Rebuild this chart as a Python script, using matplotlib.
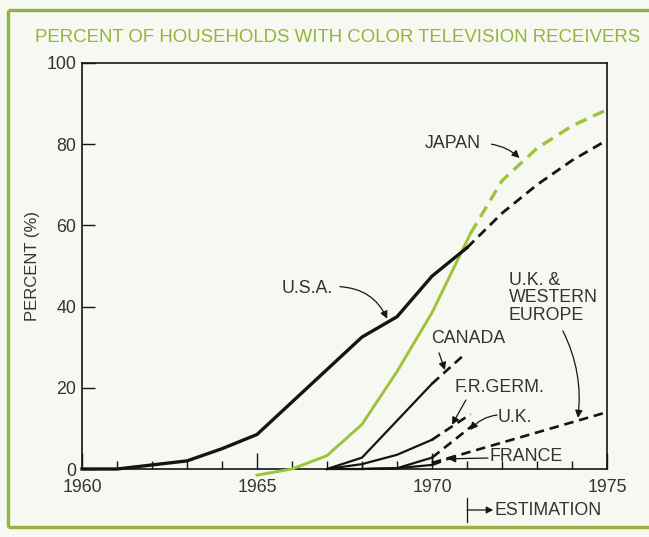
import matplotlib
matplotlib.use('Agg')
import matplotlib.pyplot as plt
from matplotlib.lines import Line2D

plt.rcParams['font.family'] = ['Liberation Sans', 'DejaVu Sans']

# ---------------- data ----------------
years_usa = [1960, 1961, 1962, 1963, 1964, 1965, 1966, 1967, 1968, 1969, 1970, 1971]
usa = [0, 0, 1, 2, 5, 8.5, 16.5, 24.5, 32.5, 37.5, 47.5, 54.5]
years_usa_est = [1971, 1972, 1973, 1974, 1975]
usa_est = [54.5, 63, 70, 76, 81]

years_japan = [1965, 1966, 1967, 1968, 1969, 1970, 1971.1]
japan = [-1.5, 0, 3.3, 11, 24, 38.5, 58]
years_japan_est = [1971.1, 1972, 1973, 1974, 1975]
japan_est = [58, 71, 79, 84.5, 88.5]

years_canada = [1967, 1968, 1970]
canada = [0, 2.8, 21]
years_canada_est = [1970, 1970.9]
canada_est = [21, 28]

years_frg = [1967, 1968, 1969, 1970]
frg = [0, 1.2, 3.5, 7.2]
years_frg_est = [1970, 1971.1]
frg_est = [7.2, 13.5]

years_uk = [1967, 1968, 1969, 1970]
uk = [0, 0, 0.2, 2.8]
years_uk_est = [1970, 1971.2]
uk_est = [2.8, 11]

years_france = [1968, 1969, 1970]
france = [0, 0.2, 1.0]
years_france_est = [1970, 1970.8]
france_est = [1.0, 3.6]

years_ukwe_est = [1970, 1975]
ukwe_est = [1.5, 14]

x_major = [1960, 1965, 1970, 1975]
y_major = [0, 20, 40, 60, 80, 100]

title = 'PERCENT OF HOUSEHOLDS WITH COLOR TELEVISION RECEIVERS'
ylabel = 'PERCENT (%)'

# ---------------- style ----------------
GREEN = '#93b53a'
LINEGREEN = '#9cc33c'
BLACK = '#141414'
TXT = '#333333'
BG = '#f8f8f3'
W, H = 649, 537
FS = 12.8

fig = plt.figure(figsize=(W / 100, H / 100), dpi=100, facecolor=BG)
ax = fig.add_axes([82 / W, (H - 469) / H, 525 / W, 406 / H])
ax.set_facecolor(BG)

# frame
for (x0, y0, x1, y1) in [(8, 10, 652, 10), (8, 10, 8, 527), (8, 527, 652, 527)]:
    fig.add_artist(Line2D([x0 / W, x1 / W], [1 - y0 / H, 1 - y1 / H],
                          transform=fig.transFigure, color=GREEN, lw=2.4,
                          solid_capstyle='butt'))

dash = (3.6, 2.2)

def solid(x, y, lw=1.6, color=BLACK):
    ax.plot(x, y, color=color, lw=lw, solid_joinstyle='miter', clip_on=False, zorder=3)

def dashed(x, y, lw=1.9, color=BLACK):
    ax.plot(x, y, color=color, lw=lw, dashes=dash, clip_on=False, zorder=3)

solid(years_japan, japan, lw=2.1, color=LINEGREEN)
dashed(years_japan_est, japan_est, lw=2.4, color=LINEGREEN)
solid(years_usa, usa, lw=2.4)
dashed(years_usa_est, usa_est, lw=2.0)
solid(years_canada, canada)
dashed(years_canada_est, canada_est)
solid(years_frg, frg)
dashed(years_frg_est, frg_est)
solid(years_uk, uk)
dashed(years_uk_est, uk_est)
solid(years_france, france)
dashed(years_france_est, france_est)
dashed(years_ukwe_est, ukwe_est)
# small connectors
ax.vlines(years_frg[1], uk[1], frg[1], color=BLACK, lw=1.0, zorder=3)
ax.vlines(years_uk[-1], france[-1], uk[-1], color=BLACK, lw=1.0, zorder=3)

ax.set_xlim(1960, 1975)
ax.set_ylim(0, 100)
ax.set_xticks(x_major)
ax.set_xticks(range(1960, 1976), minor=True)
ax.set_yticks(y_major)
ax.tick_params(axis='x', which='major', direction='in', length=11.5, width=1.0,
               pad=7, labelsize=FS, colors=BLACK, labelcolor=TXT)
ax.tick_params(axis='x', which='minor', direction='in', length=5.8, width=1.0, colors=BLACK)
ax.tick_params(axis='y', which='major', direction='in', length=9.4, width=1.0,
               pad=4, labelsize=FS, colors=BLACK, labelcolor=TXT)
for s in ax.spines.values():
    s.set_linewidth(1.2)
    s.set_color(BLACK)

fig.text(338 / W, 1 - 37 / H, title, ha='center', va='center', fontsize=13.4, color=GREEN)
fig.text(33 / W, 1 - 266 / H, ylabel, ha='center', va='center', rotation=90,
         fontsize=12, color=TXT)

def arrow(start, tip, rad=0.0):
    ax.annotate('', xy=tip, xytext=start, annotation_clip=False,
                arrowprops=dict(arrowstyle='-|>', color=BLACK, lw=0.9,
                                mutation_scale=11, shrinkA=0, shrinkB=0,
                                connectionstyle=f'arc3,rad={rad}'))

def label(x, y, s, ha='center', **kw):
    ax.text(x, y, s, ha=ha, va='center', fontsize=FS, color=TXT, **kw)

label(1970.6, 80.2, 'JAPAN')
arrow((1971.7, 80.0), (1972.5, 76.6), rad=-0.15)

label(1966.43, 44.4, 'U.S.A.')
arrow((1967.37, 44.9), (1968.72, 37.0), rad=-0.3)

label(1972.2, 42.2, 'U.K. &\nWESTERN\nEUROPE', ha='left', linespacing=1.05)
arrow((1973.74, 34.0), (1974.17, 12.6), rad=-0.15)

label(1971.03, 32.1, 'CANADA')
arrow((1970.2, 28.6), (1970.37, 24.4), rad=0.0)

label(1971.94, 20.0, 'F.R.GERM.')
arrow((1970.97, 17.0), (1970.57, 10.9), rad=0.0)

label(1972.37, 12.8, 'U.K.')
arrow((1971.86, 13.3), (1971.09, 9.6), rad=0.2)

label(1972.69, 3.0, 'FRANCE')
arrow((1971.6, 2.7), (1970.46, 2.5), rad=0.0)

# estimation marker below the axis
trans = ax.get_xaxis_transform()
ax.plot([1971, 1971], [-0.071, -0.13], transform=trans, color=BLACK, lw=0.9, clip_on=False)
ax.annotate('', xy=(1971.75, -0.101), xytext=(1971, -0.101), xycoords=trans,
            textcoords=trans, annotation_clip=False,
            arrowprops=dict(arrowstyle='-|>', color=BLACK, lw=0.9, mutation_scale=10,
                            shrinkA=0, shrinkB=0))
ax.text(1971.8, -0.101, 'ESTIMATION', transform=trans, ha='left', va='center',
        fontsize=FS, color=TXT)

fig.savefig('out.png', dpi=100, facecolor=BG)
